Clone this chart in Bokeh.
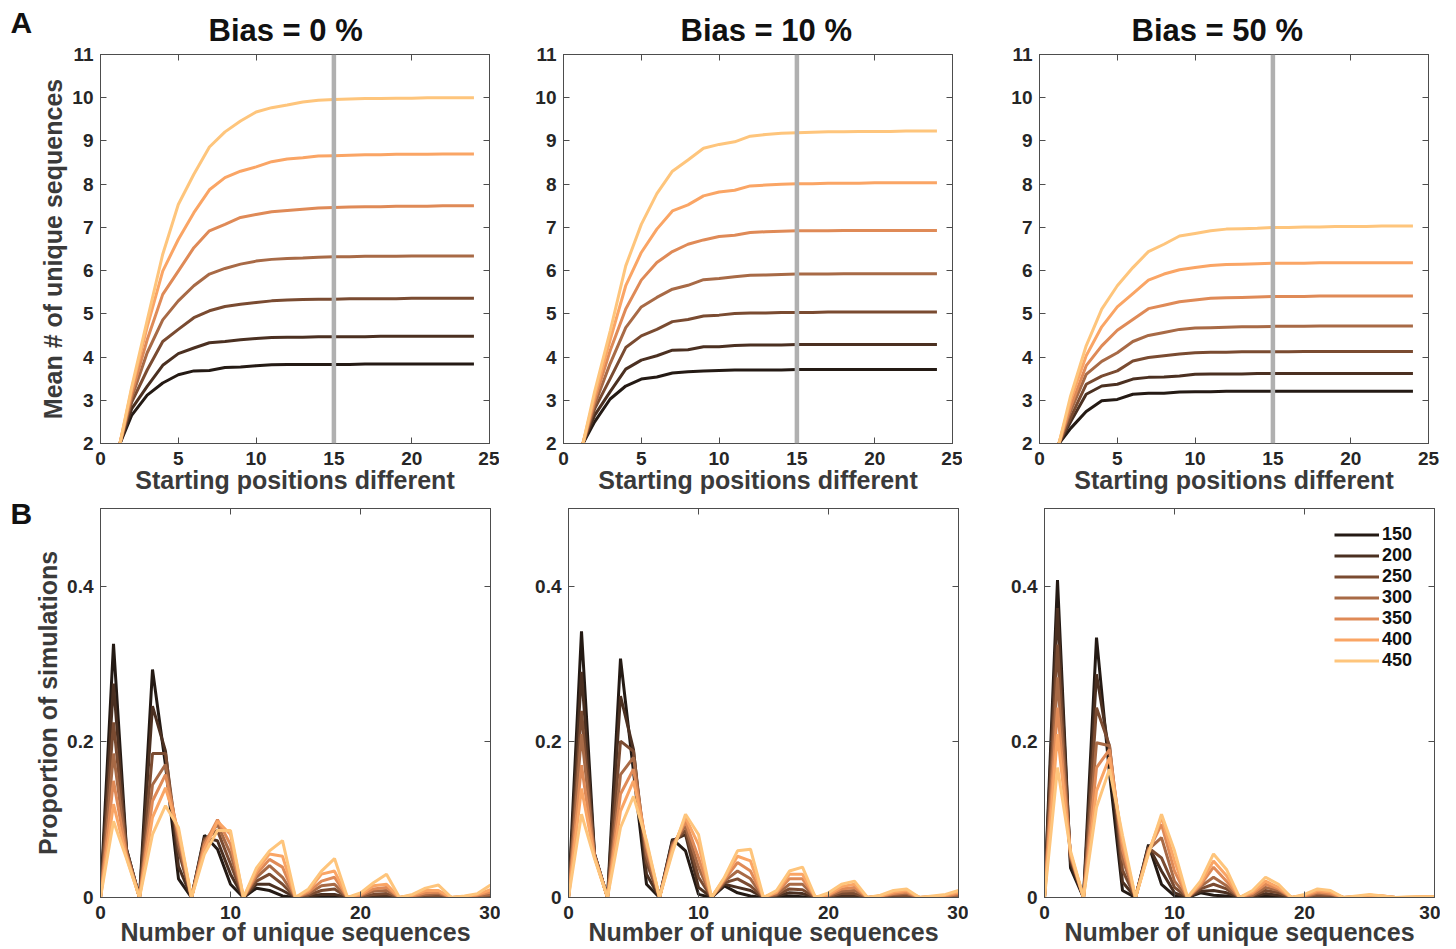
from bokeh.plotting import figure
from bokeh.models import Range1d, LinearAxis, FixedTicker, Span, Label
from bokeh.layouts import column, row
from bokeh.embed import file_html
from bokeh.resources import INLINE

FONT = "Liberation Sans"
TEXT = "#262626"
AXC = "#4d4d4d"

sizes = ["150", "200", "250", "300", "350", "400", "450"]
colors = ["#241a14", "#4b3021", "#7a4b31", "#a86a46", "#df8a57", "#faa565", "#fec57c"]

positions = list(range(1, 25))
counts = list(range(0, 31))

titles = ["Bias = 0 %", "Bias = 10 %", "Bias = 50 %"]

# Panel A: mean number of unique sequences vs starting positions different (x = 1..24)
top_bias0 = [
    [1.78, 2.65, 3.12, 3.40, 3.59, 3.68, 3.69, 3.76, 3.77, 3.80, 3.82, 3.83, 3.83, 3.83, 3.83, 3.83, 3.84, 3.84, 3.84, 3.84, 3.84, 3.84, 3.84, 3.84],
    [1.73, 2.80, 3.32, 3.81, 4.08, 4.21, 4.33, 4.36, 4.40, 4.43, 4.45, 4.46, 4.46, 4.47, 4.47, 4.47, 4.47, 4.48, 4.48, 4.48, 4.48, 4.48, 4.48, 4.48],
    [1.68, 2.95, 3.70, 4.36, 4.64, 4.91, 5.07, 5.17, 5.22, 5.26, 5.30, 5.32, 5.33, 5.34, 5.34, 5.35, 5.35, 5.35, 5.35, 5.36, 5.36, 5.36, 5.36, 5.36],
    [1.65, 3.05, 4.10, 4.86, 5.30, 5.65, 5.92, 6.05, 6.15, 6.22, 6.26, 6.28, 6.29, 6.31, 6.32, 6.32, 6.33, 6.33, 6.33, 6.34, 6.34, 6.34, 6.34, 6.34],
    [1.62, 3.15, 4.40, 5.45, 5.99, 6.53, 6.92, 7.07, 7.23, 7.30, 7.36, 7.39, 7.42, 7.45, 7.46, 7.47, 7.48, 7.48, 7.49, 7.49, 7.49, 7.50, 7.50, 7.50],
    [1.58, 3.25, 4.70, 5.99, 6.72, 7.34, 7.87, 8.15, 8.30, 8.40, 8.52, 8.58, 8.61, 8.65, 8.66, 8.67, 8.68, 8.68, 8.69, 8.69, 8.69, 8.70, 8.70, 8.70],
    [1.57, 3.30, 4.85, 6.38, 7.53, 8.23, 8.86, 9.21, 9.46, 9.67, 9.77, 9.83, 9.90, 9.94, 9.96, 9.97, 9.98, 9.98, 9.99, 9.99, 10.0, 10.0, 10.0, 10.0],
]
top_bias10 = [
    [1.83, 2.50, 3.03, 3.33, 3.49, 3.54, 3.63, 3.66, 3.68, 3.69, 3.70, 3.70, 3.70, 3.70, 3.71, 3.71, 3.71, 3.71, 3.71, 3.71, 3.71, 3.71, 3.71, 3.71],
    [1.78, 2.65, 3.20, 3.72, 3.93, 4.03, 4.16, 4.17, 4.24, 4.24, 4.27, 4.28, 4.28, 4.28, 4.29, 4.29, 4.29, 4.29, 4.29, 4.29, 4.29, 4.29, 4.29, 4.29],
    [1.73, 2.80, 3.50, 4.22, 4.49, 4.64, 4.82, 4.87, 4.95, 4.97, 5.01, 5.02, 5.02, 5.03, 5.03, 5.03, 5.04, 5.04, 5.04, 5.04, 5.04, 5.04, 5.04, 5.04],
    [1.70, 2.90, 3.85, 4.68, 5.16, 5.38, 5.57, 5.66, 5.79, 5.82, 5.86, 5.89, 5.90, 5.91, 5.92, 5.92, 5.92, 5.93, 5.93, 5.93, 5.93, 5.93, 5.93, 5.93],
    [1.67, 3.00, 4.15, 5.11, 5.78, 6.19, 6.44, 6.61, 6.71, 6.79, 6.82, 6.88, 6.90, 6.91, 6.92, 6.92, 6.92, 6.93, 6.93, 6.93, 6.93, 6.93, 6.93, 6.93],
    [1.63, 3.10, 4.40, 5.65, 6.42, 6.96, 7.38, 7.52, 7.73, 7.82, 7.86, 7.96, 7.98, 8.00, 8.01, 8.01, 8.02, 8.02, 8.02, 8.03, 8.03, 8.03, 8.03, 8.03],
    [1.60, 3.20, 4.60, 6.11, 7.07, 7.78, 8.30, 8.56, 8.83, 8.92, 8.98, 9.11, 9.15, 9.18, 9.19, 9.20, 9.21, 9.21, 9.22, 9.22, 9.22, 9.23, 9.23, 9.23],
]
top_bias50 = [
    [1.88, 2.35, 2.74, 2.99, 3.02, 3.14, 3.16, 3.16, 3.19, 3.20, 3.20, 3.21, 3.21, 3.21, 3.21, 3.21, 3.21, 3.21, 3.21, 3.21, 3.21, 3.21, 3.21, 3.21],
    [1.83, 2.50, 3.14, 3.33, 3.37, 3.49, 3.53, 3.54, 3.56, 3.60, 3.61, 3.61, 3.61, 3.62, 3.62, 3.62, 3.62, 3.62, 3.62, 3.62, 3.62, 3.62, 3.62, 3.62],
    [1.80, 2.60, 3.37, 3.56, 3.68, 3.91, 3.99, 4.03, 4.07, 4.10, 4.11, 4.11, 4.12, 4.12, 4.12, 4.12, 4.13, 4.13, 4.13, 4.13, 4.13, 4.13, 4.13, 4.13],
    [1.75, 2.75, 3.60, 3.90, 4.10, 4.36, 4.50, 4.57, 4.64, 4.67, 4.68, 4.69, 4.70, 4.70, 4.71, 4.71, 4.71, 4.72, 4.72, 4.72, 4.72, 4.72, 4.72, 4.72],
    [1.72, 2.85, 3.80, 4.26, 4.62, 4.87, 5.12, 5.20, 5.28, 5.32, 5.36, 5.37, 5.38, 5.39, 5.40, 5.40, 5.40, 5.41, 5.41, 5.41, 5.41, 5.41, 5.41, 5.41],
    [1.67, 3.00, 4.03, 4.70, 5.16, 5.47, 5.78, 5.92, 6.02, 6.07, 6.12, 6.14, 6.15, 6.16, 6.17, 6.17, 6.17, 6.18, 6.18, 6.18, 6.18, 6.18, 6.18, 6.18],
    [1.63, 3.10, 4.26, 5.11, 5.65, 6.07, 6.44, 6.61, 6.80, 6.86, 6.92, 6.96, 6.97, 6.98, 7.00, 7.00, 7.01, 7.01, 7.02, 7.02, 7.02, 7.03, 7.03, 7.03],
]

# Panel B: proportion of simulations vs number of unique sequences (x = 0..30)
bot_bias0 = [
    [0, 0.326, 0.062, 0, 0.293, 0.170, 0.024, 0, 0.080, 0.062, 0.017, 0, 0.012, 0.009, 0.002, 0, 0.001, 0.001, 0.001, 0, 0, 0, 0, 0, 0, 0, 0, 0, 0, 0, 0],
    [0, 0.275, 0.062, 0, 0.246, 0.188, 0.040, 0, 0.077, 0.073, 0.030, 0, 0.017, 0.017, 0.009, 0, 0.002, 0.004, 0.004, 0, 0.001, 0.002, 0.002, 0, 0, 0.001, 0.001, 0, 0, 0, 0],
    [0, 0.225, 0.060, 0, 0.185, 0.185, 0.060, 0, 0.075, 0.086, 0.043, 0, 0.021, 0.030, 0.017, 0, 0.003, 0.009, 0.011, 0, 0.001, 0.004, 0.005, 0, 0.001, 0.002, 0.003, 0, 0, 0.001, 0.002],
    [0, 0.185, 0.058, 0, 0.145, 0.171, 0.070, 0, 0.072, 0.094, 0.056, 0, 0.026, 0.041, 0.026, 0, 0.005, 0.015, 0.017, 0, 0.002, 0.008, 0.009, 0, 0.001, 0.004, 0.005, 0, 0.001, 0.002, 0.004],
    [0, 0.150, 0.055, 0, 0.124, 0.158, 0.080, 0, 0.068, 0.100, 0.068, 0, 0.030, 0.049, 0.039, 0, 0.007, 0.021, 0.026, 0, 0.003, 0.011, 0.013, 0, 0.002, 0.006, 0.007, 0, 0.001, 0.003, 0.007],
    [0, 0.120, 0.052, 0, 0.103, 0.141, 0.085, 0, 0.062, 0.098, 0.081, 0, 0.034, 0.056, 0.053, 0, 0.009, 0.030, 0.034, 0, 0.004, 0.015, 0.017, 0, 0.003, 0.009, 0.009, 0, 0.001, 0.004, 0.010],
    [0, 0.098, 0.050, 0, 0.081, 0.118, 0.090, 0, 0.056, 0.086, 0.086, 0, 0.038, 0.060, 0.073, 0, 0.011, 0.034, 0.050, 0, 0.006, 0.019, 0.030, 0, 0.004, 0.012, 0.016, 0, 0.002, 0.005, 0.016],
]
bot_bias10 = [
    [0, 0.342, 0.056, 0, 0.307, 0.162, 0.017, 0, 0.075, 0.060, 0.004, 0, 0.015, 0.006, 0.002, 0, 0.001, 0.002, 0.001, 0, 0, 0, 0, 0, 0, 0, 0, 0, 0, 0, 0],
    [0, 0.290, 0.056, 0, 0.259, 0.190, 0.030, 0, 0.073, 0.081, 0.013, 0, 0.017, 0.013, 0.009, 0, 0.002, 0.006, 0.005, 0, 0.001, 0.002, 0.002, 0, 0, 0.001, 0.001, 0, 0, 0, 0.001],
    [0, 0.240, 0.055, 0, 0.201, 0.188, 0.045, 0, 0.070, 0.086, 0.026, 0, 0.019, 0.024, 0.015, 0, 0.003, 0.011, 0.010, 0, 0.001, 0.005, 0.005, 0, 0.001, 0.002, 0.003, 0, 0, 0.001, 0.002],
    [0, 0.210, 0.054, 0, 0.158, 0.180, 0.055, 0, 0.068, 0.092, 0.039, 0, 0.021, 0.034, 0.024, 0, 0.004, 0.017, 0.017, 0, 0.002, 0.008, 0.009, 0, 0.001, 0.004, 0.005, 0, 0.001, 0.002, 0.003],
    [0, 0.170, 0.053, 0, 0.133, 0.165, 0.065, 0, 0.065, 0.098, 0.051, 0, 0.023, 0.045, 0.034, 0, 0.006, 0.024, 0.024, 0, 0.003, 0.011, 0.013, 0, 0.002, 0.005, 0.007, 0, 0.001, 0.002, 0.005],
    [0, 0.140, 0.052, 0, 0.111, 0.150, 0.070, 0, 0.062, 0.103, 0.068, 0, 0.025, 0.053, 0.047, 0, 0.007, 0.030, 0.030, 0, 0.004, 0.014, 0.017, 0, 0.002, 0.007, 0.009, 0, 0.001, 0.003, 0.007],
    [0, 0.107, 0.050, 0, 0.090, 0.130, 0.073, 0, 0.058, 0.107, 0.081, 0, 0.026, 0.060, 0.062, 0, 0.009, 0.034, 0.039, 0, 0.006, 0.017, 0.021, 0, 0.003, 0.009, 0.011, 0, 0.002, 0.004, 0.009],
]
bot_bias50 = [
    [0, 0.408, 0.038, 0, 0.334, 0.160, 0.009, 0, 0.068, 0.017, 0.002, 0, 0.006, 0.003, 0.002, 0, 0.001, 0.002, 0.001, 0, 0, 0, 0, 0, 0, 0, 0, 0, 0, 0, 0],
    [0, 0.372, 0.045, 0, 0.287, 0.185, 0.020, 0, 0.066, 0.034, 0.006, 0, 0.008, 0.009, 0.006, 0, 0.001, 0.005, 0.003, 0, 0, 0.001, 0.001, 0, 0, 0.001, 0, 0, 0, 0, 0],
    [0, 0.325, 0.050, 0, 0.244, 0.195, 0.035, 0, 0.064, 0.051, 0.013, 0, 0.011, 0.017, 0.011, 0, 0.002, 0.009, 0.006, 0, 0.001, 0.003, 0.002, 0, 0, 0.001, 0.001, 0, 0, 0, 0],
    [0, 0.283, 0.053, 0, 0.199, 0.195, 0.050, 0, 0.062, 0.077, 0.021, 0, 0.014, 0.026, 0.015, 0, 0.003, 0.013, 0.009, 0, 0.001, 0.005, 0.004, 0, 0.001, 0.002, 0.001, 0, 0, 0, 0.001],
    [0, 0.244, 0.055, 0, 0.167, 0.190, 0.062, 0, 0.060, 0.094, 0.034, 0, 0.016, 0.039, 0.021, 0, 0.005, 0.017, 0.011, 0, 0.002, 0.007, 0.005, 0, 0.001, 0.003, 0.002, 0, 0, 0.001, 0.001],
    [0, 0.210, 0.057, 0, 0.137, 0.180, 0.072, 0, 0.058, 0.103, 0.047, 0, 0.018, 0.047, 0.028, 0, 0.007, 0.021, 0.013, 0, 0.003, 0.009, 0.007, 0, 0.001, 0.003, 0.002, 0, 0, 0.001, 0.001],
    [0, 0.167, 0.060, 0, 0.116, 0.165, 0.080, 0, 0.056, 0.107, 0.060, 0, 0.021, 0.056, 0.036, 0, 0.009, 0.026, 0.017, 0, 0.004, 0.011, 0.009, 0, 0.002, 0.004, 0.002, 0, 0.001, 0.001, 0.001],
]

top_xticks = [0, 5, 10, 15, 20, 25]
top_yticks = [2, 3, 4, 5, 6, 7, 8, 9, 10, 11]
bot_xticks = [0, 10, 20, 30]
bot_yticks = [0, 0.2, 0.4]
bot_ylabels = {0: "0", 0.2: "0.2", 0.4: "0.4"}


def style_axis(ax, show_labels=True, ticks=None):
    ax.major_tick_in = 6
    ax.major_tick_out = 0
    ax.minor_tick_line_color = None
    ax.axis_line_color = AXC
    ax.major_tick_line_color = AXC
    ax.major_label_text_font = FONT
    ax.major_label_text_font_style = "bold"
    ax.major_label_text_font_size = "19px"
    ax.major_label_text_color = TEXT
    ax.major_label_standoff = 7
    ax.axis_label_text_font = FONT
    ax.axis_label_text_font_style = "bold"
    ax.axis_label_text_font_size = "25px"
    ax.axis_label_text_color = "#3a3a3a"
    ax.axis_label_standoff = 2
    if not show_labels:
        ax.major_label_overrides = {t: "" for t in ticks}
        ax.major_label_text_font_size = "1px"
        ax.major_label_standoff = 0


def make_fig(xr, yr, xticks, yticks, fw, fh, borders, title=None, ylabels=None, xlab_standoff=-2):
    l, r, t, b = borders
    p = figure(frame_width=fw, frame_height=fh, x_range=Range1d(*xr), y_range=Range1d(*yr),
               output_backend="svg", toolbar_location=None,
               min_border_left=l, min_border_right=r, min_border_top=t, min_border_bottom=b,
               title=title)
    p.grid.visible = False
    p.outline_line_color = AXC
    p.outline_line_width = 1
    xa = p.below[0]
    ya = p.left[0]
    xa.ticker = FixedTicker(ticks=xticks)
    ya.ticker = FixedTicker(ticks=yticks)
    style_axis(xa)
    style_axis(ya)
    xa.major_label_standoff = 8
    xa.axis_label_standoff = xlab_standoff
    if ylabels:
        ya.major_label_overrides = ylabels
    ra = LinearAxis(ticker=FixedTicker(ticks=yticks))
    ta = LinearAxis(ticker=FixedTicker(ticks=xticks))
    style_axis(ra, False, yticks)
    style_axis(ta, False, xticks)
    p.add_layout(ra, "right")
    p.add_layout(ta, "above")
    if title:
        p.title.text_font = FONT
        p.title.text_font_style = "bold"
        p.title.text_font_size = "31px"
        p.title.text_color = "#111111"
        p.title.align = "left"
        p.title.vertical_align = "top"
        p.title.standoff = 10
    return p, xa, ya


top_data = [top_bias0, top_bias10, top_bias50]
bot_data = [bot_bias0, bot_bias10, bot_bias50]
top_borders = [(100, 10, 54, 51), (64, 10, 54, 51), (77, 12, 54, 51)]
bot_borders = [(100, 10, 12, 46), (68, 10, 12, 46), (76, 6, 12, 46)]
title_offsets = [108, 117, 92]

tops = []
for i in range(3):
    p, xa, ya = make_fig((0, 25), (2, 11), top_xticks, top_yticks, 389, 389, top_borders[i], title=titles[i])
    p.title.offset = title_offsets[i]
    for s in range(7):
        p.line(positions, top_data[i][s], line_color=colors[s], line_width=3)
    p.add_layout(Span(location=15, dimension="height", line_color="#b0b0b0", line_width=4.5))
    xa.axis_label = "Starting positions different"
    if i == 0:
        ya.axis_label = "Mean # of unique sequences"
    tops.append(p)

bots = []
for i in range(3):
    p, xa, ya = make_fig((0, 30), (0, 0.5), bot_xticks, bot_yticks, 390, 389, bot_borders[i],
                         ylabels=bot_ylabels, xlab_standoff=-4)
    for s in range(7):
        if i == 2:
            p.line(counts, bot_data[i][s], line_color=colors[s], line_width=3, legend_label=sizes[s])
        else:
            p.line(counts, bot_data[i][s], line_color=colors[s], line_width=3)
    xa.axis_label = "Number of unique sequences"
    if i == 0:
        ya.axis_label = "Proportion of simulations"
    bots.append(p)

lg = bots[2].legend[0]
lg.location = "top_right"
lg.border_line_color = None
lg.background_fill_alpha = 0
lg.glyph_width = 45
lg.glyph_height = 21
lg.label_height = 21
lg.label_width = 36
lg.label_standoff = 3
lg.spacing = 0
lg.padding = 8
lg.margin = 16
lg.label_text_font = FONT
lg.label_text_font_style = "bold"
lg.label_text_font_size = "18px"
lg.label_text_color = "#111111"

tops[0].add_layout(Label(x=10, y=22, x_units="canvas", y_units="canvas", text="A",
                         text_font=FONT, text_font_style="bold", text_font_size="30px",
                         text_color="#111111", text_baseline="middle", text_align="left"), "left")
bots[0].add_layout(Label(x=10, y=17, x_units="canvas", y_units="canvas", text="B",
                         text_font=FONT, text_font_style="bold", text_font_size="30px",
                         text_color="#111111", text_baseline="middle", text_align="left"), "left")

layout = column(row(*tops), row(*bots))
open("out.html", "w").write(file_html(layout, INLINE))
